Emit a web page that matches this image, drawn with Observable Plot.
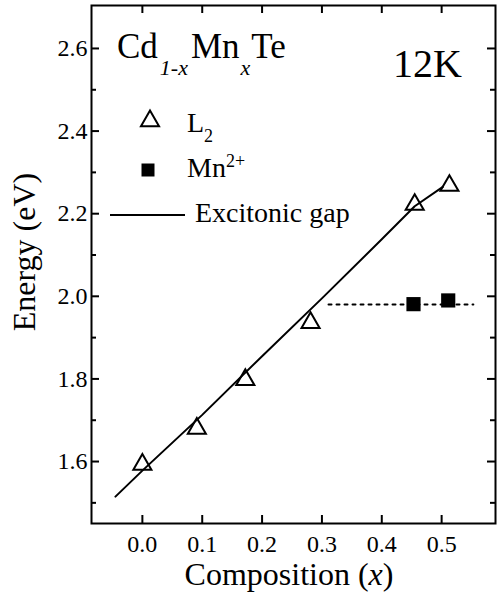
<!DOCTYPE html>
<html><head><meta charset="utf-8">
<script src="https://cdn.jsdelivr.net/npm/d3@7"></script>
<script src="https://cdn.jsdelivr.net/npm/@observablehq/plot@0.6"></script>
<style>
body{margin:0;background:#fff}
svg{display:block}
svg text, svg tspan{font-family:"Liberation Serif","Times New Roman",Times,"DejaVu Serif",serif !important;}
</style>
</head><body><div id="chart"></div>
<script>
// L2 transition energies (open triangles)
const l2X = [0.0, 0.091, 0.172, 0.281, 0.455, 0.513];
const l2Y = [1.593, 1.680, 1.798, 1.936, 2.222, 2.268];
// Mn2+ internal transition (filled squares)
const mnX = [0.453, 0.511];
const mnY = [1.981, 1.990];
// Excitonic gap curve
const gapX = [-0.045, 0.0, 0.1, 0.2, 0.3, 0.4, 0.455, 0.502];
const gapY = [1.515, 1.578, 1.713, 1.855, 1.995, 2.138, 2.218, 2.265];
// Dotted Mn2+ level guide
const dotX = [0.311, 0.553];
const dotY = [1.980, 1.980];
// Ticks
const xTicks = [0, 0.1, 0.2, 0.3, 0.4, 0.5];
const yTicks = [1.6, 1.8, 2.0, 2.2, 2.4, 2.6];
const yMinor = [1.5, 1.7, 1.9, 2.1, 2.3, 2.5];

const W = 502, H = 605;
const mL = 91, mR = 7, mT = 5, mB = 82;
const fw = W - mL - mR, fh = H - mT - mB;
const SERIF = '"Liberation Serif", "Times New Roman", Times, "DejaVu Serif", serif';

const l2 = l2X.map((x, i) => ({x, y: l2Y[i]}));
const mn = mnX.map((x, i) => ({x, y: mnY[i]}));
const gap = gapX.map((x, i) => ({x, y: gapY[i]}));
const dots = dotX.map((x, i) => ({x, y: dotY[i]}));

const plot = Plot.plot({
  width: W, height: H,
  marginLeft: mL, marginRight: mR, marginTop: mT, marginBottom: mB,
  style: {fontFamily: SERIF, fontSize: "24px", background: "#fff", color: "#000"},
  x: {domain: [-0.085, 0.59]},
  y: {domain: [1.450, 2.704]},
  marks: [
    Plot.axisX(xTicks, {tickSize: 0, tickPadding: 11, tickFormat: d => d.toFixed(1), label: null, fontSize: 24}),
    Plot.axisY(yTicks, {tickSize: 0, tickPadding: 4, tickFormat: d => d.toFixed(1), label: null, fontSize: 24}),
    Plot.tickX(xTicks, {x: d => d, insetTop: fh - 8, strokeWidth: 2}),
    Plot.tickX(xTicks, {x: d => d, insetBottom: fh - 8, strokeWidth: 2}),
    Plot.tickY(yTicks, {y: d => d, insetRight: fw - 8, strokeWidth: 2}),
    Plot.tickY(yMinor, {y: d => d, insetRight: fw - 5, strokeWidth: 2}),
    Plot.tickY(yTicks, {y: d => d, insetLeft: fw - 8, strokeWidth: 2}),
    Plot.tickY(yMinor, {y: d => d, insetLeft: fw - 5, strokeWidth: 2}),
    Plot.frame({stroke: "#000", strokeWidth: 2}),
    Plot.line(gap, {x: "x", y: "y", curve: "linear", stroke: "#000", strokeWidth: 2}),
    Plot.line(dots, {x: "x", y: "y", stroke: "#000", strokeWidth: 2, strokeDasharray: "3,5"}),
    Plot.dot(mn, {x: "x", y: "y", symbol: "square", r: 8, fill: "#000", stroke: "none"}),
    Plot.dot(l2, {x: "x", y: "y", symbol: "triangle", r: 6.7, fill: "none", stroke: "#000", strokeWidth: 2})
  ]
});
document.getElementById("chart").appendChild(plot);

const svg = d3.select(plot);
const g = svg.append("g").style("font-family", SERIF).attr("text-anchor", "start").attr("fill", "#000");

// Title Cd1-xMnxTe
const t = g.append("text").attr("x", 117).attr("y", 58).attr("font-size", 35);
t.append("tspan").text("Cd");
t.append("tspan").attr("font-size", 22).attr("font-style", "italic").attr("dy", 17).attr("dx", 2).text("1-x");
t.append("tspan").attr("dy", -17).attr("dx", 3).text("Mn");
t.append("tspan").attr("font-size", 22).attr("font-style", "italic").attr("dy", 17).attr("dx", 1).text("x");
t.append("tspan").attr("dy", -17).attr("dx", 1).text("Te");

g.append("text").attr("x", 462).attr("y", 77).attr("font-size", 40).attr("text-anchor", "end").text("12K");

// Legend
g.append("path").attr("d", d3.symbol(d3.symbolTriangle, Math.PI * 6.7 * 6.7)()).attr("transform", "translate(150,121)")
  .attr("fill", "none").attr("stroke", "#000").attr("stroke-width", 2);
const lt = g.append("text").attr("x", 187).attr("y", 132).attr("font-size", 28);
lt.append("tspan").text("L");
lt.append("tspan").attr("font-size", 18).attr("dy", 10).text("2");

g.append("path").attr("d", d3.symbol(d3.symbolSquare, 13 * 13)()).attr("transform", "translate(148,170)").attr("fill", "#000");
const mt = g.append("text").attr("x", 187).attr("y", 177).attr("font-size", 28);
mt.append("tspan").text("Mn");
mt.append("tspan").attr("font-size", 18).attr("dy", -10).text("2+");

g.append("line").attr("x1", 110).attr("x2", 185).attr("y1", 215).attr("y2", 215).attr("stroke", "#000").attr("stroke-width", 2);
g.append("text").attr("x", 195).attr("y", 222).attr("font-size", 28).text("Excitonic gap");

// Axis labels
const xl = g.append("text").attr("x", 289).attr("y", 585).attr("font-size", 32).attr("text-anchor", "middle");
xl.append("tspan").text("Composition (");
xl.append("tspan").attr("font-style", "italic").text("x");
xl.append("tspan").text(")");

g.append("text").attr("transform", "translate(35,252) rotate(-90)").attr("font-size", 32).attr("text-anchor", "middle").text("Energy (eV)");
</script>
</body></html>
